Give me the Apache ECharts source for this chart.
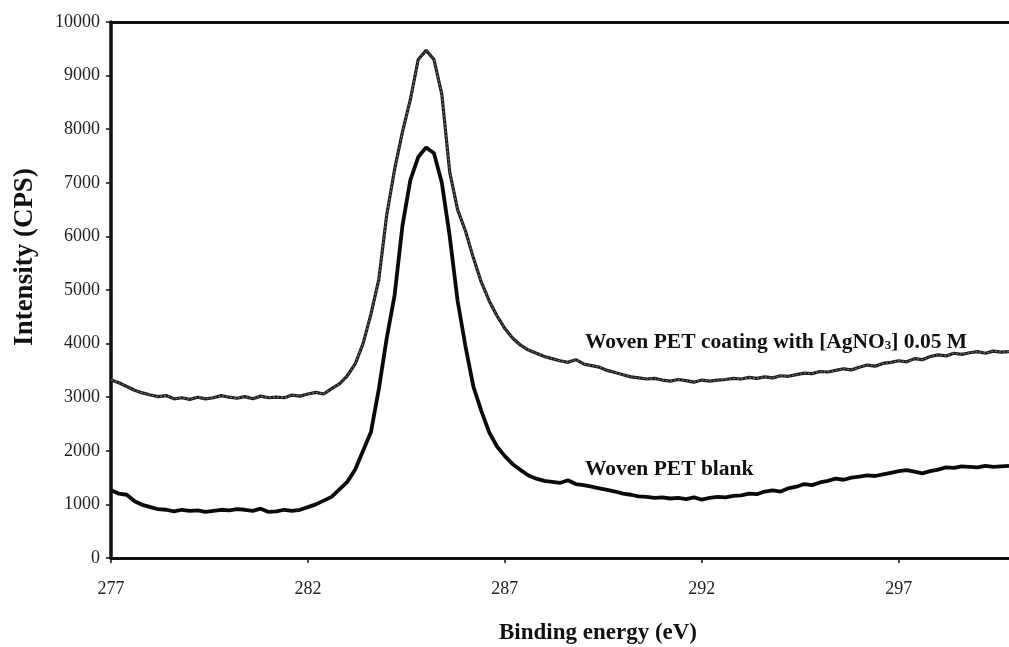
<!DOCTYPE html>
<html><head><meta charset="utf-8">
<script src="https://cdn.jsdelivr.net/npm/echarts@6/dist/echarts.min.js"></script>
<style>html,body{margin:0;padding:0;background:#fff}#c{width:1009px;height:647px}</style>
</head><body><div id="c"></div><script>
// Binding energy (eV) sample positions
const energy = [
277.0,277.2,277.4,277.6,277.8,278.0,278.2,278.4,278.6,278.8,
279.0,279.2,279.4,279.6,279.8,280.0,280.2,280.4,280.6,280.8,
281.0,281.2,281.4,281.6,281.8,282.0,282.2,282.4,282.6,282.8,
283.0,283.2,283.4,283.6,283.8,284.0,284.2,284.4,284.6,284.8,
285.0,285.2,285.4,285.6,285.8,286.0,286.2,286.4,286.6,286.8,
287.0,287.2,287.4,287.6,287.8,288.0,288.2,288.4,288.6,288.8,
289.0,289.2,289.4,289.6,289.8,290.0,290.2,290.4,290.6,290.8,
291.0,291.2,291.4,291.6,291.8,292.0,292.2,292.4,292.6,292.8,
293.0,293.2,293.4,293.6,293.8,294.0,294.2,294.4,294.6,294.8,
295.0,295.2,295.4,295.6,295.8,296.0,296.2,296.4,296.6,296.8,
297.0,297.2,297.4,297.6,297.8,298.0,298.2,298.4,298.6,298.8,
299.0,299.2,299.4,299.6,299.8];
// Woven PET coating with [AgNO3] 0.05 M (CPS)
const coated = [
3320,3270,3200,3130,3080,3040,3010,3030,2970,2990,
2960,3000,2970,2990,3030,3000,2980,3010,2970,3020,
2990,3000,2990,3040,3020,3060,3090,3060,3160,3250,
3400,3620,4000,4550,5200,6400,7250,7950,8550,9300,
9470,9300,8650,7200,6500,6100,5600,5150,4800,4520,
4280,4100,3970,3880,3820,3760,3720,3680,3650,3700,
3620,3590,3560,3500,3460,3420,3380,3360,3340,3350,
3320,3300,3330,3310,3280,3320,3300,3320,3330,3350,
3340,3370,3350,3380,3360,3400,3390,3420,3450,3440,
3480,3470,3500,3530,3510,3560,3600,3580,3630,3650,
3680,3660,3720,3700,3760,3790,3770,3820,3800,3830,
3850,3820,3860,3840,3850];
// Woven PET blank (CPS)
const blank = [
1270,1200,1180,1060,990,950,910,900,870,900,
880,890,860,880,900,890,910,900,880,920,
860,870,900,880,900,950,1000,1070,1140,1280,
1420,1650,2000,2350,3150,4100,4900,6200,7050,7480,
7660,7550,7000,6000,4800,3950,3200,2750,2350,2080,
1900,1750,1640,1540,1480,1440,1420,1400,1450,1380,
1360,1330,1300,1270,1240,1200,1180,1150,1140,1120,
1130,1110,1120,1100,1130,1090,1120,1140,1130,1160,
1170,1200,1190,1240,1260,1240,1300,1330,1380,1360,
1410,1440,1480,1460,1500,1520,1540,1530,1560,1590,
1620,1640,1610,1580,1620,1650,1690,1680,1710,1700,
1690,1720,1700,1710,1720];
const xTicks = [277, 282, 287, 292, 297];
const xRange = [277, 299.8];
const yRange = [0, 10000];
const yStep = 1000;
const labelCoated = 'Woven PET coating with [AgNO{s|3}] 0.05 M';
const labelBlank = 'Woven PET blank';
const xTitle = 'Binding energy (eV)';
const yTitle = 'Intensity (CPS)';

const pair = arr => energy.map((e, i) => [e, arr[i]]);
const serif = 'Liberation Serif';
const chart = echarts.init(document.getElementById('c'), null, {renderer: 'canvas'});
chart.setOption({
  animation: false,
  backgroundColor: '#fff',
  grid: {left: 111, right: 0, top: 22, bottom: 89, containLabel: false, outerBoundsMode: 'none'},
  xAxis: [{
    type: 'value', min: xRange[0], max: xRange[1], position: 'bottom',
    axisLine: {show: true, onZero: false, lineStyle: {color: '#111', width: 3}},
    axisTick: {show: true, customValues: xTicks, length: 5, lineStyle: {color: '#111', width: 1.5}},
    axisLabel: {customValues: xTicks, margin: 22, fontFamily: serif, fontSize: 18, color: '#222',
      formatter: v => String(v)},
    splitLine: {show: false}
  }, {
    type: 'value', min: xRange[0], max: xRange[1], position: 'top',
    axisLine: {show: true, onZero: false, lineStyle: {color: '#111', width: 3}},
    axisTick: {show: false}, axisLabel: {show: false}, splitLine: {show: false}
  }],
  yAxis: {
    type: 'value', min: yRange[0], max: yRange[1], interval: yStep,
    axisLine: {show: true, onZero: false, lineStyle: {color: '#111', width: 3.5}},
    axisTick: {show: true, length: 5, lineStyle: {color: '#111', width: 1.5}},
    axisLabel: {margin: 11, fontFamily: serif, fontSize: 18, color: '#222',
      formatter: v => String(v)},
    splitLine: {show: false}
  },
  series: [
    {type: 'line', data: pair(blank), showSymbol: false, symbol: 'none',
     lineStyle: {color: '#0a0a0a', width: 3.8}, z: 3},
    {type: 'line', data: pair(coated), showSymbol: false, symbol: 'none',
     lineStyle: {color: '#1e1e1e', width: 3.2}, z: 3},
    {type: 'line', data: pair(coated), showSymbol: false, symbol: 'none',
     lineStyle: {color: '#9a9a9a', width: 0.8, type: [2, 2]}, z: 4}
  ],
  graphic: [
    {type: 'text', left: 585, top: 331, z: 10, style: {
      text: '{a|' + labelCoated.replace('{s|3}', '}{s|3}{a|') + '}',
      rich: {
        a: {fontFamily: serif, fontWeight: 'bold', fontSize: 21.5, fill: '#111'},
        s: {fontFamily: serif, fontWeight: 'bold', fontSize: 13, fill: '#111', padding: [8, 0, 0, 0]}
      }}},
    {type: 'text', left: 585, top: 458, z: 10, style: {
      text: labelBlank, fontFamily: serif, fontWeight: 'bold', fontSize: 21.5, fill: '#111'}},
    {type: 'text', x: 598, y: 633, z: 10, style: {
      text: xTitle, fontFamily: serif, fontWeight: 'bold', fontSize: 23, fill: '#111',
      textAlign: 'center', textVerticalAlign: 'middle'}},
    {type: 'text', x: 25, y: 257, rotation: Math.PI / 2, z: 10, style: {
      text: yTitle, fontFamily: serif, fontWeight: 'bold', fontSize: 27, fill: '#111',
      textAlign: 'center', textVerticalAlign: 'middle'}}
  ]
});
</script></body></html>
